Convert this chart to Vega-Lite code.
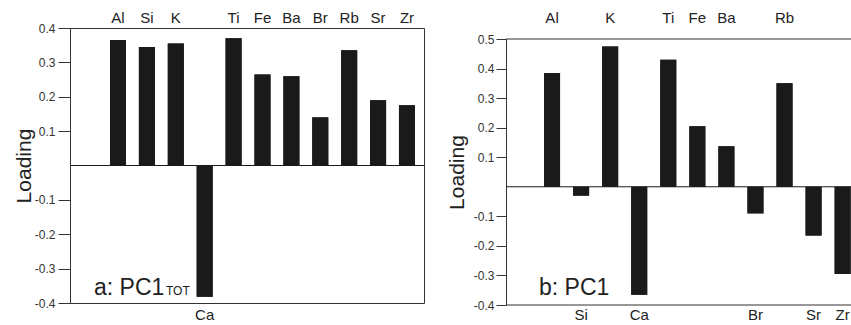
{
  "$schema": "https://vega.github.io/schema/vega-lite/v6.json",
  "padding": {"left": 12, "top": 10, "right": 0, "bottom": 0},
  "spacing": 21,
  "config": {
    "font": "Liberation Sans",
    "locale": {"number": {"decimal": ".", "thousands": ",", "grouping": [3], "currency": ["$", ""], "minus": "-"}},
    "view": {"stroke": "#333333", "strokeWidth": 1},
    "axis": {"grid": false, "domainColor": "#333333", "tickColor": "#333333", "labelColor": "#333333", "titleColor": "#222222"}
  },
  "datasets": {
    "pc1tot": [
      {"element": "Al", "loading": 0.365},
      {"element": "Si", "loading": 0.345},
      {"element": "K", "loading": 0.355},
      {"element": "Ca", "loading": -0.382},
      {"element": "Ti", "loading": 0.37},
      {"element": "Fe", "loading": 0.265},
      {"element": "Ba", "loading": 0.26},
      {"element": "Br", "loading": 0.14},
      {"element": "Rb", "loading": 0.335},
      {"element": "Sr", "loading": 0.19},
      {"element": "Zr", "loading": 0.175}
    ],
    "pc1": [
      {"element": "Al", "loading": 0.385},
      {"element": "Si", "loading": -0.03},
      {"element": "K", "loading": 0.475},
      {"element": "Ca", "loading": -0.365},
      {"element": "Ti", "loading": 0.43},
      {"element": "Fe", "loading": 0.205},
      {"element": "Ba", "loading": 0.137},
      {"element": "Br", "loading": -0.09},
      {"element": "Rb", "loading": 0.35},
      {"element": "Sr", "loading": -0.165},
      {"element": "Zr", "loading": -0.295}
    ],
    "one": [{}]
  },
  "hconcat": [
    {
      "width": 354,
      "height": 275,
      "layer": [
        {
          "data": {"name": "pc1tot"},
          "mark": {"type": "bar", "color": "#1a1a1a"},
          "encoding": {
            "x": {"field": "element", "type": "nominal", "sort": null,
              "scale": {"paddingInner": 0.446, "paddingOuter": 0.848, "align": 0.816},
              "axis": {"orient": "bottom", "values": ["Ca"], "title": null, "labelAngle": 0, "ticks": false, "tickSize": 0, "domain": false, "labelPadding": 4.5, "labelFontSize": 15, "labelColor": "#222222"}},
            "y": {"field": "loading", "type": "quantitative",
              "scale": {"domain": [-0.4, 0.4], "nice": false, "zero": false},
              "axis": {"values": [-0.4, -0.3, -0.2, -0.1, 0.1, 0.2, 0.3, 0.4], "format": ".1f", "title": "Loading", "tickSize": 12, "labelPadding": 3, "titlePadding": 0, "titleFontSize": 21, "titleFontWeight": "normal", "labelFontSize": 12, "labelOverlap": false, "labelBound": false, "labelFlush": false}}
          }
        },
        {
          "data": {"name": "pc1tot"},
          "mark": {"type": "bar", "color": "#1a1a1a"},
          "encoding": {
            "x": {"field": "element", "type": "nominal", "sort": null,
              "axis": {"orient": "top", "values": ["Al", "Si", "K", "Ti", "Fe", "Ba", "Br", "Rb", "Sr", "Zr"], "title": null, "labelAngle": 0, "ticks": false, "tickSize": 0, "domain": false, "labelPadding": 2.5, "labelFontSize": 15, "labelColor": "#222222"}},
            "y": {"field": "loading", "type": "quantitative", "axis": null}
          }
        },
        {
          "data": {"name": "one"},
          "mark": {"type": "rule", "color": "#1a1a1a", "strokeWidth": 1},
          "encoding": {"y": {"datum": 0, "axis": null}}
        },
        {
          "data": {"name": "one"},
          "mark": {"type": "text", "text": "a: PC1", "align": "left", "baseline": "alphabetic", "fontSize": 23, "fontWeight": "normal", "dx": -24, "dy": -8, "color": "#222222"},
          "encoding": {"x": {"datum": "Al", "axis": null}, "y": {"datum": -0.4, "axis": null}}
        },
        {
          "data": {"name": "one"},
          "mark": {"type": "text", "text": "TOT", "align": "left", "baseline": "alphabetic", "fontSize": 12, "fontWeight": "normal", "dx": 48, "dy": -8, "color": "#222222"},
          "encoding": {"x": {"datum": "Al", "axis": null}, "y": {"datum": -0.4, "axis": null}}
        }
      ],
      "resolve": {"axis": {"x": "independent", "y": "independent"}}
    },
    {
      "width": 356,
      "height": 277,
      "view": {"stroke": null},
      "layer": [
        {
          "data": {"name": "pc1"},
          "mark": {"type": "bar", "color": "#1a1a1a"},
          "encoding": {
            "x": {"field": "element", "type": "nominal", "sort": null,
              "scale": {"paddingInner": 0.449, "paddingOuter": 0.85, "align": 0.77},
              "axis": {"orient": "bottom", "values": ["Si", "Ca", "Br", "Sr", "Zr"], "title": null, "labelAngle": 0, "ticks": false, "tickSize": 0, "domain": false, "labelPadding": 2.5, "labelFontSize": 15, "labelColor": "#222222"}},
            "y": {"field": "loading", "type": "quantitative",
              "scale": {"domain": [-0.4, 0.5], "nice": false, "zero": false, "range": [277, 11]},
              "axis": {"values": [-0.4, -0.3, -0.2, -0.1, 0.1, 0.2, 0.3, 0.4, 0.5], "format": ".1f", "title": "Loading", "tickSize": 10, "labelPadding": 2, "titlePadding": 6, "titleFontSize": 21, "titleFontWeight": "normal", "labelFontSize": 12, "labelOverlap": false, "labelBound": false, "labelFlush": false}}
          }
        },
        {
          "data": {"name": "pc1"},
          "mark": {"type": "bar", "color": "#1a1a1a"},
          "encoding": {
            "x": {"field": "element", "type": "nominal", "sort": null,
              "axis": {"orient": "top", "values": ["Al", "K", "Ti", "Fe", "Ba", "Rb"], "title": null, "labelAngle": 0, "ticks": false, "tickSize": 0, "domain": false, "labelPadding": 2.5, "labelFontSize": 15, "labelColor": "#222222"}},
            "y": {"field": "loading", "type": "quantitative", "axis": null}
          }
        },
        {
          "data": {"name": "one"},
          "mark": {"type": "rule", "color": "#1a1a1a", "strokeWidth": 1},
          "encoding": {"y": {"datum": 0, "axis": null}}
        },
        {
          "data": {"name": "one"},
          "mark": {"type": "rule", "color": "#333333", "strokeWidth": 1},
          "encoding": {"y": {"datum": 0.5, "axis": null}}
        },
        {
          "data": {"name": "one"},
          "mark": {"type": "rule", "color": "#333333", "strokeWidth": 1},
          "encoding": {"y": {"datum": -0.4, "axis": null}}
        },
        {
          "data": {"name": "one"},
          "mark": {"type": "text", "text": "b: PC1", "align": "left", "baseline": "alphabetic", "fontSize": 23, "fontWeight": "normal", "dx": -13, "dy": -10, "color": "#222222"},
          "encoding": {"x": {"datum": "Al", "axis": null}, "y": {"datum": -0.4, "axis": null}}
        }
      ],
      "resolve": {"axis": {"x": "independent", "y": "independent"}}
    }
  ]
}
